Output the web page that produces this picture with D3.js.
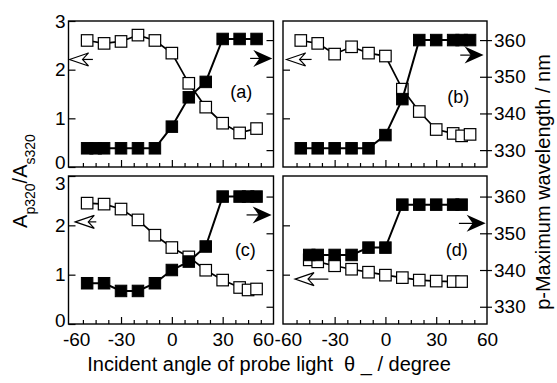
<!DOCTYPE html>
<html>
<head>
<meta charset="utf-8">
<script src="https://cdn.jsdelivr.net/npm/d3@7"></script>
<style>
  body { margin: 0; background: #fff; }
  text { font-family: "Liberation Sans", Arial, sans-serif; fill: #000; }
</style>
</head>
<body>
<svg id="chart"></svg>
<script>
// ---- data ----
// (a)
const angleA_open = [-50, -40, -30, -20, -10, 0, 10, 20, 30, 40, 50];
const ratioA = [2.60, 2.54, 2.58, 2.71, 2.60, 2.34, 1.72, 1.23, 0.90, 0.70, 0.79];
const angleA_fill = [-50, -45, -40, -30, -20, -10, 0, 10, 20, 30, 40, 50];
const lambdaA = [330.5, 330.5, 330.5, 330.5, 330.5, 330.5, 336.4, 344.4, 348.6, 360.3, 360.3, 360.3];
// (b)
const angleB_open = [-50, -40, -30, -20, -10, 0, 10, 20, 30, 40, 45, 50];
const ratioB = [2.60, 2.54, 2.32, 2.47, 2.34, 2.28, 1.60, 1.14, 0.77, 0.69, 0.64, 0.67];
const angleB_fill = [-50, -40, -30, -20, -10, 0, 10, 20, 30, 40, 45, 50];
const lambdaB = [330.5, 330.5, 330.5, 330.5, 330.5, 334.1, 343.9, 360.0, 360.0, 360.0, 360.0, 360.0];
// (c)
const angleC_open = [-50, -40, -30, -20, -10, 0, 10, 20, 30, 40, 45, 50];
const ratioC = [2.45, 2.43, 2.33, 2.11, 1.80, 1.55, 1.36, 1.09, 0.89, 0.74, 0.69, 0.71];
const angleC_fill = [-50, -40, -30, -20, -10, 0, 10, 20, 30, 40, 45, 50];
const lambdaC = [336.4, 336.4, 334.3, 334.3, 336.4, 340.0, 342.3, 346.4, 360.0, 360.0, 360.0, 360.0];
// (d)
const angleD_open = [-45, -40, -30, -20, -10, 0, 10, 20, 30, 40, 45];
const ratioD = [1.30, 1.26, 1.18, 1.11, 1.05, 0.99, 0.94, 0.89, 0.87, 0.86, 0.86];
const angleD_fill = [-45, -40, -30, -20, -10, 0, 10, 20, 30, 40, 45];
const lambdaD = [344.1, 344.1, 344.1, 344.1, 346.1, 346.1, 357.8, 357.8, 357.8, 357.8, 357.8];

const ratioTicks = [0, 1, 2, 3];
const lambdaTicks = [330, 340, 350, 360];
const angleLabels = [-60, -30, 0, 30, 60];

const zip = (a, b) => a.map((v, i) => [v, b[i]]);

// arrows: [x start, x end, value] ; labels: [angle, ratio]
const panels = [
  { name: "(a)", col: 0, row: 0, open: zip(angleA_open, ratioA), fill: zip(angleA_fill, lambdaA),
    openArrow: [-60.4, -46.6, 2.21], fillArrow: [46.2, 59.3, 355.0], label: [41, 1.55] },
  { name: "(b)", col: 1, row: 0, open: zip(angleB_open, ratioB), fill: zip(angleB_fill, lambdaB),
    openArrow: [-58.4, -43.6, 2.21], fillArrow: [44.2, 58.0, 355.9], label: [43, 1.44] },
  { name: "(c)", col: 0, row: 1, open: zip(angleC_open, ratioC), fill: zip(angleC_fill, lambdaC),
    openArrow: [-57.0, -44.6, 2.07], fillArrow: [44.1, 58.9, 355.0], label: [43.4, 1.50] },
  { name: "(d)", col: 1, row: 1, open: zip(angleD_open, ratioD), fill: zip(angleD_fill, lambdaD),
    openArrow: [-53.4, -33.7, 0.91], fillArrow: [43.4, 59.2, 352.7], label: [42.1, 1.50] }
];

// ---- layout ----
const W = 557, H = 383;
const svg = d3.select("#chart").attr("width", W).attr("height", H);

const cols = [{ x0: 68.5, x1: 273.5, dom: [-61, 60] }, { x0: 283, x1: 487, dom: [-60.5, 60] }];
const rows = [{ y0: 21, y1: 167, nm: [325.4, 365.2] }, { y0: 176, y1: 324, nm: [325.3, 365.6] }];

const allTicks = d3.range(-52.5, 53, 7.5);
const majorTicks = [-30, 0, 30];
const minorTicks = allTicks.filter(v => !majorTicks.includes(v));
const sq = 11.5;
const fontPx = 19;

const styleAxis = g => {
  g.select(".domain").remove();
  g.selectAll("line").attr("stroke", "#000").attr("stroke-width", 1.2);
  g.selectAll("text").attr("font-size", fontPx).attr("font-family", "Liberation Sans, Arial, sans-serif");
};

panels.forEach(p => {
  const c = cols[p.col], r = rows[p.row];
  const x = d3.scaleLinear().domain(c.dom).range([c.x0, c.x1]);
  const yA = d3.scaleLinear().domain([0, 3]).range([r.y1, r.y0]);
  const yL = d3.scaleLinear().domain(r.nm).range([r.y1, r.y0]);
  const g = svg.append("g");

  // bottom ticks (inward)
  g.append("g").attr("transform", `translate(0,${r.y1})`)
    .call(d3.axisBottom(x).tickValues(minorTicks).tickSize(-4).tickFormat(""))
    .call(styleAxis);
  g.append("g").attr("transform", `translate(0,${r.y1})`)
    .call(d3.axisBottom(x).tickValues(majorTicks).tickSize(-7).tickFormat(""))
    .call(styleAxis);

  if (p.row === 1) {
    const lab = g.append("g").attr("transform", `translate(0,${r.y1})`)
      .call(d3.axisBottom(x).tickValues(angleLabels).tickSize(0).tickPadding(9).tickFormat(d3.format("d")))
      .call(styleAxis);
    lab.selectAll(".tick text")
      .text(d => d < 0 ? "-" + Math.abs(d) : d)
      .attr("dx", d => d === -60 ? (p.col === 0 ? 6 : 4) : 0)
      .attr("text-anchor", d => (p.col === 0 && d === 60) ? "end" : "middle");
  }

  // left ratio axis
  if (p.col === 0) {
    const ax = g.append("g").attr("transform", `translate(${c.x0},0)`)
      .call(d3.axisLeft(yA).tickValues(ratioTicks).tickSize(-7).tickPadding(3).tickFormat(d3.format("d")))
      .call(styleAxis);
    // the "0" of the upper panel and the "3" of the lower one are pushed apart
    ax.selectAll(".tick text")
      .attr("dy", d => (p.row === 0 && d === 0) ? "0.1em"
        : (p.row === 1 && d === 3) ? "0.7em"
        : (p.row === 1 && d === 0) ? "0.12em" : "0.32em");
  } else {
    g.append("g").attr("transform", `translate(${c.x0},0)`)
      .call(d3.axisLeft(yA).tickValues([1, 2]).tickSize(-7).tickFormat(""))
      .call(styleAxis);
  }

  // right wavelength axis
  g.append("g").attr("transform", `translate(${c.x1},0)`)
    .call(d3.axisRight(yL).tickValues(lambdaTicks).tickSize(-7).tickFormat(""))
    .call(styleAxis);
  if (p.col === 1) {
    g.append("g").attr("transform", `translate(${c.x1},0)`)
      .call(d3.axisRight(yL).tickValues(lambdaTicks).tickSize(5).tickPadding(2).tickFormat(d3.format("d")))
      .call(styleAxis);
  }

  // frame
  g.append("rect")
    .attr("x", c.x0).attr("y", r.y0)
    .attr("width", c.x1 - c.x0).attr("height", r.y1 - r.y0)
    .attr("fill", "none").attr("stroke", "#000").attr("stroke-width", 1.4);

  // open squares: ratio (left axis)
  const lineA = d3.line().x(d => x(d[0])).y(d => yA(d[1]));
  g.append("path").datum(p.open).attr("d", lineA)
    .attr("fill", "none").attr("stroke", "#000").attr("stroke-width", 1.7);
  g.selectAll("rect.open").data(p.open).enter().append("rect")
    .attr("class", "open")
    .attr("x", d => x(d[0]) - sq / 2).attr("y", d => yA(d[1]) - sq / 2)
    .attr("width", sq).attr("height", sq)
    .attr("fill", "#fff").attr("stroke", "#000").attr("stroke-width", 1.2);

  // filled squares: wavelength (right axis)
  const lineL = d3.line().x(d => x(d[0])).y(d => yL(d[1]));
  g.append("path").datum(p.fill).attr("d", lineL)
    .attr("fill", "none").attr("stroke", "#000").attr("stroke-width", 2);
  g.selectAll("rect.fill").data(p.fill).enter().append("rect")
    .attr("class", "fill")
    .attr("x", d => x(d[0]) - sq / 2).attr("y", d => yL(d[1]) - sq / 2)
    .attr("width", sq).attr("height", sq)
    .attr("fill", "#000").attr("stroke", "#000").attr("stroke-width", 1);

  // open arrow pointing left
  {
    const [a0, a1, v] = p.openArrow;
    const tx = x(a0), ex = x(a1), ty = yA(v);
    g.append("line").attr("x1", tx + 13).attr("x2", ex).attr("y1", ty).attr("y2", ty)
      .attr("stroke", "#000").attr("stroke-width", 1.2);
    g.append("path")
      .attr("d", `M${tx},${ty} L${tx + 19},${ty - 6.5} L${tx + 13},${ty} L${tx + 19},${ty + 6.5} Z`)
      .attr("fill", "#fff").attr("stroke", "#000").attr("stroke-width", 1.2);
  }
  // filled arrow pointing right
  {
    const [a0, a1, v] = p.fillArrow;
    const sx = x(a0), tx = x(a1), ty = yL(v);
    g.append("line").attr("x1", sx).attr("x2", tx - 12).attr("y1", ty).attr("y2", ty)
      .attr("stroke", "#000").attr("stroke-width", 1.2);
    g.append("path")
      .attr("d", `M${tx},${ty} L${tx - 19},${ty - 8.5} L${tx - 13},${ty} L${tx - 19},${ty + 8.5} Z`)
      .attr("fill", "#000");
  }

  // panel label
  g.append("text")
    .attr("x", x(p.label[0])).attr("y", yA(p.label[1]))
    .attr("dy", "0.35em").attr("text-anchor", "middle")
    .attr("font-size", 18).text(p.name);
});

// axis titles
svg.append("text")
  .attr("x", 269).attr("y", 371).attr("text-anchor", "middle")
  .attr("font-size", 20).style("white-space", "pre")
  .text("Incident angle of probe light  \u03b8 _ / degree");

const yTitle = svg.append("text")
  .attr("transform", "translate(27,181) rotate(-90)")
  .attr("text-anchor", "middle").attr("font-size", 20);
yTitle.append("tspan").text("A");
yTitle.append("tspan").attr("font-size", 14).attr("dy", 8).text("p320");
yTitle.append("tspan").attr("dy", -8).text("/A");
yTitle.append("tspan").attr("font-size", 14).attr("dy", 8).text("s320");

svg.append("text")
  .attr("transform", "translate(550,182) rotate(-90)")
  .attr("text-anchor", "middle").attr("font-size", 20)
  .text("p-Maximum wavelength / nm");
</script>
</body>
</html>
